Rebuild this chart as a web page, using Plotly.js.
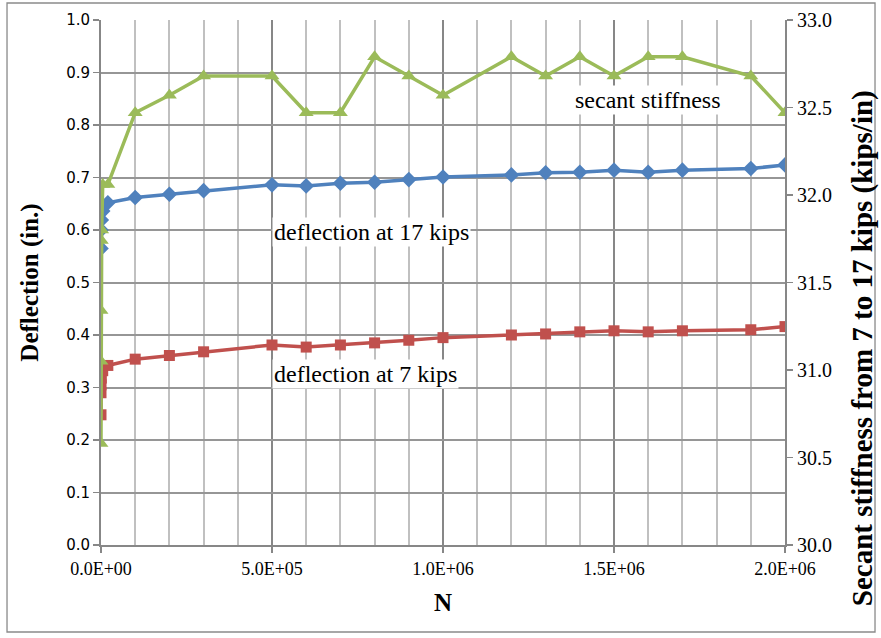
<!DOCTYPE html>
<html>
<head>
<meta charset="utf-8">
<script src="https://cdn.plot.ly/plotly-3.0.1.min.js"></script>
<style>
html,body{margin:0;padding:0;background:#fff;}
#chart{width:881px;height:638px;}
</style>
</head>
<body>
<div id="chart"></div>
<script>
// Cycles N for each series (initial cycles near zero, then main cycles)
var nBlue  = [1, 100, 1000, 5000, 20000, 1e5, 2e5, 3e5, 5e5, 6e5, 7e5, 8e5, 9e5, 1e6, 1.2e6, 1.3e6, 1.4e6, 1.5e6, 1.6e6, 1.7e6, 1.9e6, 2e6];
var defl17 = [0.565, 0.600, 0.619, 0.636, 0.652, 0.662, 0.668, 0.675, 0.686, 0.684, 0.689, 0.691, 0.696, 0.701, 0.705, 0.709, 0.710, 0.714, 0.710, 0.714, 0.717, 0.724];

var nRed   = [1, 10, 100, 1000, 5000, 20000, 1e5, 2e5, 3e5, 5e5, 6e5, 7e5, 8e5, 9e5, 1e6, 1.2e6, 1.3e6, 1.4e6, 1.5e6, 1.6e6, 1.7e6, 1.9e6, 2e6];
var defl7  = [0.248, 0.290, 0.305, 0.318, 0.332, 0.342, 0.354, 0.361, 0.368, 0.381, 0.377, 0.381, 0.385, 0.390, 0.395, 0.400, 0.402, 0.406, 0.408, 0.406, 0.408, 0.410, 0.416];

var nGreen = [1, 10, 100, 1000, 2000, 5000, 20000, 1e5, 2e5, 3e5, 5e5, 6e5, 7e5, 8e5, 9e5, 1e6, 1.2e6, 1.3e6, 1.4e6, 1.5e6, 1.6e6, 1.7e6, 1.9e6, 2e6];
var secant = [30.58, 31.05, 31.34, 31.74, 31.80, 32.06, 32.06, 32.47, 32.57, 32.68, 32.68, 32.47, 32.47, 32.79, 32.68, 32.57, 32.79, 32.68, 32.79, 32.68, 32.79, 32.79, 32.68, 32.47];

var xTickVals = [0, 5e5, 1e6, 1.5e6, 2e6];
var xTickText = ["0.0E+00", "5.0E+05", "1.0E+06", "1.5E+06", "2.0E+06"];

var labels = ["deflection at 17 kips", "deflection at 7 kips", "secant stiffness"];
var rightTitle = "Secant stiffness from 7 to 17 kips (kips/in)";

var traces = [
  {x: nBlue, y: defl17, mode: 'lines+markers', name: labels[0],
   line: {color: '#4F81BD', width: 3.5}, marker: {symbol: 'diamond', size: 12, color: '#4F81BD'}},
  {x: nRed, y: defl7, mode: 'lines+markers', name: labels[1],
   line: {color: '#C0504D', width: 3.5}, marker: {symbol: 'square', size: 11, color: '#C0504D'}},
  {x: nGreen, y: secant, mode: 'lines+markers', name: labels[2], yaxis: 'y2',
   line: {color: '#9BBB59', width: 3.5}, marker: {symbol: 'triangle-up', size: 13, color: '#9BBB59'}}
];

var serif = 'Liberation Serif, Times New Roman, serif';
var layout = {
  width: 881, height: 638,
  margin: {l: 101, r: 96, t: 20, b: 93},
  paper_bgcolor: '#fff', plot_bgcolor: '#fff',
  showlegend: false,
  font: {family: serif, color: '#000', size: 14},
  xaxis: {
    range: [0, 2e6], tickvals: xTickVals, ticktext: xTickText,
    showgrid: true, gridcolor: '#878787', gridwidth: 2,
    minor: {dtick: 1e5, showgrid: true, gridcolor: '#c0c0c0', gridwidth: 2, ticks: ''},
    showline: true, linecolor: '#878787', linewidth: 2,
    ticks: 'outside', ticklen: 6, tickcolor: '#878787', tickwidth: 1.5,
    zeroline: false,
    tickfont: {family: serif, size: 18},
    title: {text: '<b>N</b>', font: {family: serif, size: 25}, standoff: 16}
  },
  yaxis: {
    range: [0, 1], dtick: 0.1, tickformat: '.1f',
    showgrid: true, gridcolor: '#969696', gridwidth: 2,
    showline: true, linecolor: '#878787', linewidth: 2,
    ticks: 'outside', ticklen: 6, tickcolor: '#878787', tickwidth: 1.5,
    zeroline: false,
    tickfont: {family: 'DejaVu Sans, Verdana, sans-serif', size: 15},
    title: {text: '<b>Deflection (in.)</b>', font: {family: serif, size: 25}, standoff: 20}
  },
  yaxis2: {
    overlaying: 'y', side: 'right', range: [30, 33], dtick: 0.5, tickformat: '.1f',
    showgrid: false, showline: true, linecolor: '#878787', linewidth: 2,
    ticks: 'outside', ticklen: 6, tickcolor: '#878787', tickwidth: 1.5,
    zeroline: false,
    tickfont: {family: serif, size: 20}
  },
  annotations: [
    {x: 7.9e5, y: 0.596, xref: 'x', yref: 'y', text: labels[0], showarrow: false,
     bgcolor: '#fff', font: {family: serif, size: 24}},
    {x: 7.72e5, y: 0.326, xref: 'x', yref: 'y', text: labels[1], showarrow: false,
     bgcolor: '#fff', font: {family: serif, size: 24}},
    {x: 1.6e6, y: 0.848, xref: 'x', yref: 'y', text: labels[2], showarrow: false,
     bgcolor: '#fff', font: {family: serif, size: 24}},
    {x: 1.1126, y: 0.375, xref: 'paper', yref: 'paper', text: '<b>' + rightTitle + '</b>',
     textangle: -90, showarrow: false, xanchor: 'center', yanchor: 'middle',
     font: {family: serif, size: 29}}
  ],
  shapes: [
    {type: 'rect', xref: 'paper', yref: 'paper', x0: -0.1374, x1: 1.1316, y0: -0.1657, y1: 1.0324,
     line: {color: '#8a8a8a', width: 1.3}, fillcolor: 'rgba(0,0,0,0)', layer: 'below'}
  ]
};

Plotly.newPlot('chart', traces, layout, {displayModeBar: false, staticPlot: true});
</script>
</body>
</html>
